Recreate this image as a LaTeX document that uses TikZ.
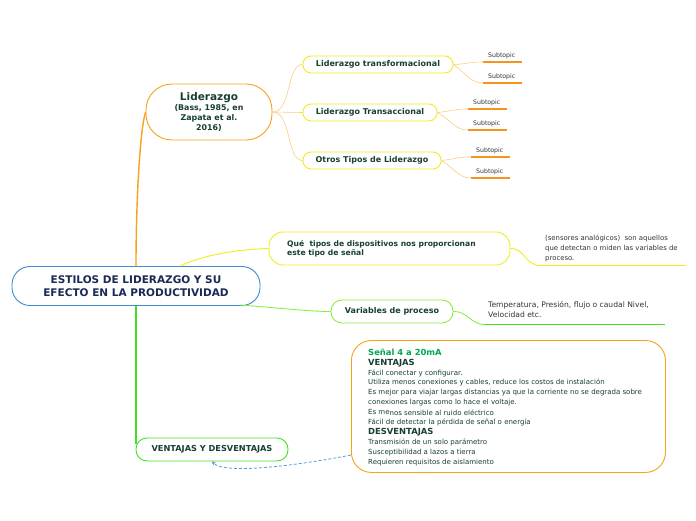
\documentclass[tikz,border=0pt]{standalone}
\usepackage{fontspec}
\setmainfont{DejaVu Sans}
\usetikzlibrary{arrows.meta}
\definecolor{txtg}{HTML}{173F33}
\definecolor{navy}{HTML}{1A2A55}
\definecolor{borange}{HTML}{F7A21B}
\definecolor{lorange}{HTML}{FCCB85}
\definecolor{uorange}{HTML}{F7941D}
\definecolor{byellow}{HTML}{EEEE1A}
\definecolor{bgreen}{HTML}{44E022}
\definecolor{lgreen}{HTML}{88EE44}
\definecolor{bblue}{HTML}{3B8BD6}
\definecolor{dblue}{HTML}{5599DD}
\definecolor{sgreen}{HTML}{00A651}
\definecolor{gtext}{HTML}{333333}
\tikzset{
  topic/.style={draw, rounded corners=8pt, line width=0.9pt, text=txtg, font=\fontsize{8}{9.5}\selectfont\bfseries, inner sep=0pt, minimum height=17pt, fill=white},
  subtxt/.style={text=gtext, font=\fontsize{6.2}{7}\selectfont, inner sep=0pt, anchor=south west},
  smalltxt/.style={text=gtext, font=\fontsize{6.9}{9.8}\selectfont, inner sep=0pt, align=left, anchor=north west},
  conn/.style={line width=0.6pt, lorange},
  uline/.style={line width=1.4pt, uorange}
}
\begin{document}
\begin{tikzpicture}[x=1pt,y=-1pt]
\useasboundingbox (0,0) rectangle (696,520);
% nodes
\node[draw=bblue, line width=0.9pt, rounded corners=18pt, fill=white, minimum width=248pt, minimum height=39pt, inner sep=0pt, align=center, text=navy, font=\fontsize{10.5}{13}\selectfont\bfseries] (root) at (136,286) {ESTILOS DE LIDERAZGO Y SU\\EFECTO EN LA PRODUCTIVIDAD};

\node[draw=borange, line width=0.9pt, rounded corners=26pt, fill=white, minimum width=126pt, minimum height=56pt, inner sep=0pt, align=center, text=txtg, font=\fontsize{7.9}{10.3}\selectfont\bfseries] (lid) at (209,112) {{\fontsize{10.5}{12}\selectfont Liderazgo}\\(Bass, 1985, en\\Zapata et al.\\2016)};

\draw[borange, line width=1.4pt] (root.north) .. controls (136,200) and (140,130) .. (lid.west);

\node[topic, draw=byellow, minimum width=150pt] (t1) at (378,64.5) {Liderazgo transformacional};
\node[topic, draw=byellow, minimum width=134pt] (t2) at (370,112.5) {Liderazgo Transaccional};
\node[topic, draw=byellow, minimum width=138pt] (t3) at (372,160.5) {Otros Tipos de Liderazgo};

\draw[conn] (lid.east) .. controls (292,112) and (286,64.5) .. (t1.west);
\draw[conn] (lid.east) -- (t2.west);
\draw[conn] (lid.east) .. controls (292,112) and (286,160.5) .. (t3.west);

% subtopics
\foreach \p/\x/\ya/\yb/\n in {t1/483/62/83/1, t2/468/109/130/2, t3/471/157/178/3}{
  \coordinate (s\n a) at (\x,\ya);
  \coordinate (s\n b) at (\x,\yb);
  \draw[conn] (\p.east) .. controls (\x-15,\ya+2) and (\x-15,\ya) .. (s\n a);
  \draw[conn] (\p.east) .. controls (\x-15,\yb-8) and (\x-12,\yb) .. (s\n b);
  \draw[uline] (s\n a) -- ++(39,0);
  \draw[uline] (s\n b) -- ++(39,0);
  \node[subtxt] (st\n a) at (\x+5,\ya-3) {Subtopic};
  \node[subtxt] (st\n b) at (\x+5,\yb-3) {Subtopic};
}

% Que node
\node[draw=byellow, line width=0.9pt, rounded corners=14pt, fill=white, minimum width=241pt, minimum height=33pt, inner sep=0pt, text=txtg] (que) at (389.5,248.5) {};
\node[anchor=west, inner sep=0pt, align=left, text=txtg, font=\fontsize{7.6}{9.5}\selectfont\bfseries] (quet) at (287,248.5) {Qué\ \ tipos de dispositivos nos proporcionan\\este tipo de señal};
\coordinate (rq) at (180,266);
\draw[byellow, line width=0.9pt] (rq) .. controls (210,252) and (250,249) .. (que.west);
\coordinate (qa) at (540,265.5);
\coordinate (qb) at (686,265.5);
\draw[byellow, line width=0.9pt] (que.east) .. controls (525,248) and (525,265.5) .. (qa) -- (qb);
\node[smalltxt] (qtxt) at (545,235) {(sensores analógicos)\ \ son aquellos\\que detectan o miden las variables de\\proceso.};

% Variables
\node[topic, draw=lgreen, minimum width=122pt, minimum height=23pt, rounded corners=11pt] (var) at (392,311.5) {Variables de proceso};
\coordinate (rv) at (240,305);
\draw[lgreen, line width=0.9pt] (rv) .. controls (280,308) and (310,311.5) .. (var.west);
\coordinate (va) at (485,324.5);
\coordinate (vb) at (665,324.5);
\draw[lgreen, line width=0.9pt] (var.east) .. controls (468,311) and (470,324.5) .. (va);
\draw[bgreen, line width=1.4pt] (va) -- (vb);
\node[smalltxt, font=\fontsize{7.6}{9.8}\selectfont] (vtxt) at (488,301) {Temperatura, Presión, flujo o caudal Nivel,\\Velocidad etc.};

% Ventajas
\node[topic, draw=bgreen, minimum width=152pt, minimum height=23pt, rounded corners=11pt, font=\fontsize{8.2}{9}\selectfont\bfseries] (ven) at (212,449.5) {VENTAJAS Y DESVENTAJAS};
\coordinate (vtop) at (136,444);
\draw[bgreen, line width=1.4pt] (root.south) -- (vtop);

% Big box
\node[draw=borange, line width=0.9pt, rounded corners=20pt, fill=white, anchor=north west, minimum width=314pt, minimum height=132pt, inner sep=0pt] (box) at (351,340) {};
\node[anchor=north west, inner sep=0pt, align=left, text=txtg, font=\fontsize{7}{9.9}\selectfont] (boxt) at (368,348.5) {%
{\color{sgreen}\fontsize{8.4}{9.9}\selectfont\bfseries Señal 4 a 20mA}\\
{\fontsize{8.4}{9.9}\selectfont\bfseries VENTAJAS}\\
Fácil conectar y configurar.\\
Utiliza menos conexiones y cables, reduce los costos de instalación\\
Es mejor para viajar largas distancias ya que la corriente no se degrada sobre\\
conexiones largas como lo hace el voltaje.\\
Es me\raisebox{-1pt}{nos sensible al ruido eléctrico}\\
Fácil de detectar la pérdida de señal o energía\\
{\fontsize{8.4}{9.9}\selectfont\bfseries DESVENTAJAS}\\
Transmisión de un solo parámetro\\
Susceptibilidad a lazos a tierra\\
Requieren requisitos de aislamiento};

\coordinate (bx) at (351,455);
\draw[dblue, line width=0.8pt, dash pattern=on 3pt off 2pt, -{Stealth[length=4pt,width=4pt]}] (bx) .. controls (300,465) and (225,475) .. (ven.south);
\end{tikzpicture}
\end{document}
